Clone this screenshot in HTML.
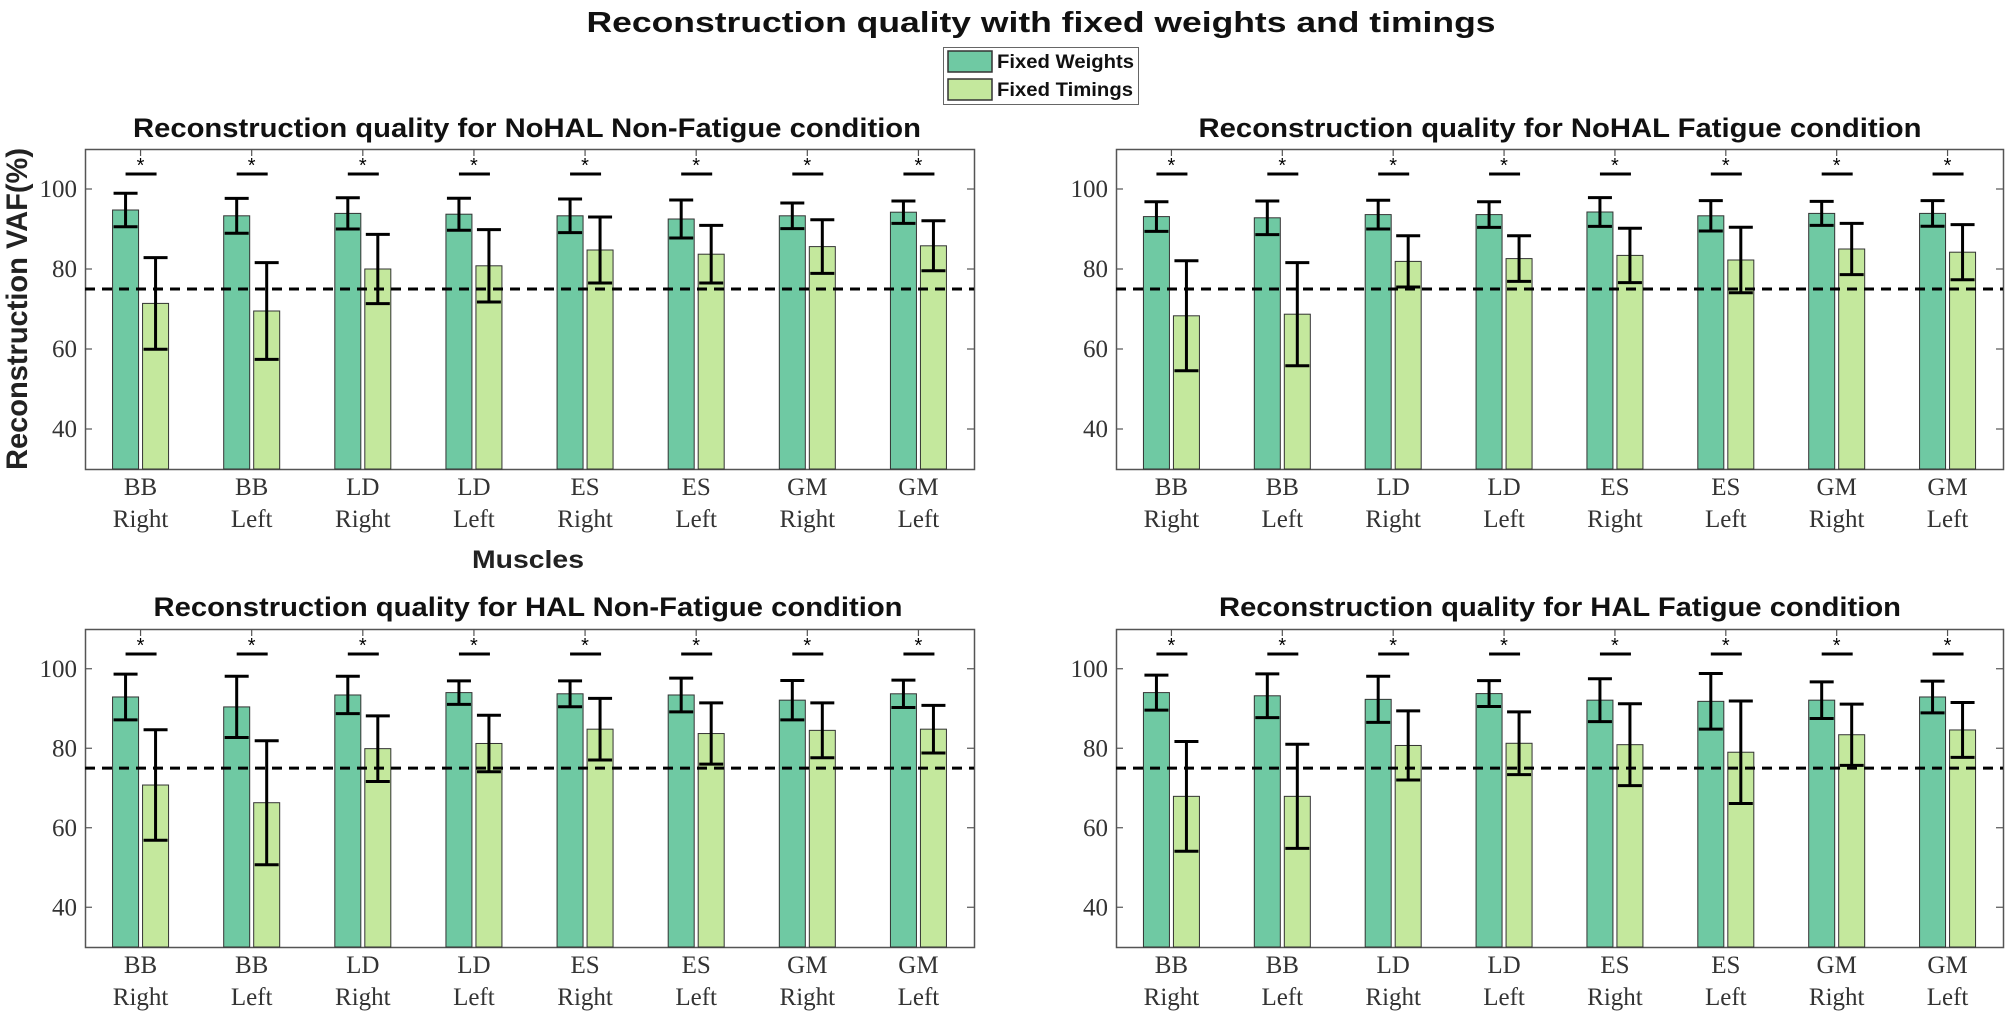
<!DOCTYPE html>
<html><head><meta charset="utf-8"><title>Reconstruction quality</title>
<style>html,body{margin:0;padding:0;background:#fff;}svg{display:block;}</style></head>
<body>
<svg id="chart" width="2008" height="1021" viewBox="0 0 2008 1021" xmlns="http://www.w3.org/2000/svg">
<rect x="0" y="0" width="2008" height="1021" fill="#fff"/>
<text x="1041" y="32" text-anchor="middle" font-family="Liberation Sans, sans-serif" font-weight="bold" font-size="29" textLength="909" lengthAdjust="spacingAndGlyphs" fill="#111">Reconstruction quality with fixed weights and timings</text>
<g>
<rect x="943.5" y="47.5" width="195" height="57" fill="#fff" stroke="#666" stroke-width="1"/>
<rect x="948" y="51" width="44" height="21" fill="#6fc9a3" stroke="#333" stroke-width="1.5"/>
<text x="997" y="68" font-family="Liberation Sans, sans-serif" font-weight="bold" font-size="19" textLength="137" lengthAdjust="spacingAndGlyphs" fill="#111">Fixed Weights</text>
<rect x="948" y="79" width="44" height="21" fill="#c4e89d" stroke="#333" stroke-width="1.5"/>
<text x="997" y="96" font-family="Liberation Sans, sans-serif" font-weight="bold" font-size="19" textLength="136" lengthAdjust="spacingAndGlyphs" fill="#111">Fixed Timings</text>
</g>
<text transform="translate(27,309) rotate(-90)" text-anchor="middle" font-family="Liberation Sans, sans-serif" font-weight="bold" font-size="30" textLength="322" lengthAdjust="spacingAndGlyphs" fill="#222">Reconstruction VAF(%)</text>
<text x="528" y="568" text-anchor="middle" font-family="Liberation Sans, sans-serif" font-weight="bold" font-size="25" textLength="112" lengthAdjust="spacingAndGlyphs" fill="#222">Muscles</text>
</svg>
<script>
const muscles = ["BB", "BB", "LD", "LD", "ES", "ES", "GM", "GM"];
const sides = ["Right", "Left", "Right", "Left", "Right", "Left", "Right", "Left"];
const yTicks = [40, 60, 80, 100];
const threshold = 75;
const panelTitles = [
  "Reconstruction quality for NoHAL Non-Fatigue condition",
  "Reconstruction quality for NoHAL Fatigue condition",
  "Reconstruction quality for HAL Non-Fatigue condition",
  "Reconstruction quality for HAL Fatigue condition"
];
// Fixed Weights means / sd
const fwNoHalNF = [94.75, 93.3, 93.9, 93.7, 93.3, 92.5, 93.3, 94.2];
const fwNoHalNFsd = [4.2, 4.35, 3.9, 4.0, 4.2, 4.75, 3.2, 2.8];
const ftNoHalNF = [71.4, 69.5, 80.0, 80.8, 84.75, 83.7, 85.6, 85.8];
const ftNoHalNFsd = [11.45, 12.1, 8.65, 9.05, 8.25, 7.2, 6.7, 6.25];

const fwNoHalF = [93.1, 92.8, 93.6, 93.6, 94.25, 93.3, 93.9, 93.9];
const fwNoHalFsd = [3.7, 4.2, 3.6, 3.2, 3.6, 3.8, 3.0, 3.2];
const ftNoHalF = [68.3, 68.7, 81.9, 82.6, 83.4, 82.25, 85.0, 84.2];
const ftNoHalFsd = [13.75, 12.9, 6.4, 5.7, 6.8, 8.2, 6.4, 6.9];

const fwHalNF = [92.9, 90.4, 93.4, 94.0, 93.7, 93.4, 92.1, 93.7];
const fwHalNFsd = [5.75, 7.7, 4.7, 2.95, 3.25, 4.25, 4.95, 3.45];
const ftHalNF = [70.75, 66.3, 79.9, 81.2, 84.8, 83.7, 84.5, 84.8];
const ftHalNFsd = [13.9, 15.6, 8.25, 7.1, 7.75, 7.7, 6.9, 6.0];

const fwHalF = [94.0, 93.2, 92.3, 93.75, 92.1, 91.8, 92.1, 92.9];
const fwHalFsd = [4.4, 5.5, 5.8, 3.25, 5.4, 7.0, 4.6, 4.0];
const ftHalF = [67.9, 67.9, 80.7, 81.25, 80.9, 79.0, 83.4, 84.6];
const ftHalFsd = [13.8, 13.1, 8.7, 7.9, 10.3, 12.9, 7.7, 6.9];

const NS = "http://www.w3.org/2000/svg";
const svg = document.getElementById("chart");
function mk(tag, attrs, parent) {
  const e = document.createElementNS(NS, tag);
  for (const k in attrs) e.setAttribute(k, attrs[k]);
  (parent || svg).appendChild(e);
  return e;
}
const panels = [
  {x0: 85, x1: 974, y0: 149, y1: 469, tx: 527, ty: 137, tw: 788, fw: fwNoHalNF, fws: fwNoHalNFsd, ft: ftNoHalNF, fts: ftNoHalNFsd, key: "nohal-nonfatigue"},
  {x0: 1116, x1: 2003, y0: 149, y1: 469, tx: 1560, ty: 137, tw: 723, fw: fwNoHalF, fws: fwNoHalFsd, ft: ftNoHalF, fts: ftNoHalFsd, key: "nohal-fatigue"},
  {x0: 85, x1: 974, y0: 629, y1: 947, tx: 528, ty: 616, tw: 749, fw: fwHalNF, fws: fwHalNFsd, ft: ftHalNF, fts: ftHalNFsd, key: "hal-nonfatigue"},
  {x0: 1116, x1: 2003, y0: 629, y1: 947, tx: 1560, ty: 616, tw: 682, fw: fwHalF, fws: fwHalFsd, ft: ftHalF, fts: ftHalFsd, key: "hal-fatigue"}
];
const YMIN = 30, YMAX = 110;
panels.forEach((p, pi) => {
  const g = mk("g", {});
  
  
  const ys = v => p.y1 - (v - YMIN) / (YMAX - YMIN) * (p.y1 - p.y0);
  const bw = (p.x1 - p.x0) / muscles.length;
  const xs = i => p.x0 + (i + 0.5) * bw;
  const t = mk("text", {x: p.tx, y: p.ty, "text-anchor": "middle", "font-family": "Liberation Sans, sans-serif", "font-weight": "bold", "font-size": "27", textLength: p.tw, lengthAdjust: "spacingAndGlyphs", fill: "#111"}, g);
  t.textContent = panelTitles[pi];
  
  
  mk("rect", {x: p.x0 + 0.5, y: p.y0 + 0.5, width: p.x1 - p.x0, height: p.y1 - p.y0, fill: "#fff", stroke: "#555", "stroke-width": "1.5"}, g);
  yTicks.forEach(v => {
    const y = ys(v);
    mk("line", {x1: p.x0, x2: p.x0 + 7, y1: y, y2: y, stroke: "#555", "stroke-width": "1.2"}, g);
    mk("line", {x1: p.x1 - 7, x2: p.x1, y1: y, y2: y, stroke: "#555", "stroke-width": "1.2"}, g);
    const tl = mk("text", {x: p.x0 - 8, y: y + 8, "text-anchor": "end", "font-family": "Liberation Serif, serif", "font-size": "25", fill: "#333"}, g);
    tl.textContent = v;
    
    
  });
  muscles.forEach((m, i) => {
    const c = xs(i);
    mk("line", {x1: c, x2: c, y1: p.y0, y2: p.y0 + 7, stroke: "#555", "stroke-width": "1.2"}, g);
    const l1 = mk("text", {x: c, y: p.y1 + 26, "text-anchor": "middle", "font-family": "Liberation Serif, serif", "font-size": "25", fill: "#333"}, g);
    l1.textContent = m;
    
    
    const l2 = mk("text", {x: c, y: p.y1 + 58, "text-anchor": "middle", "font-family": "Liberation Serif, serif", "font-size": "25", fill: "#333"}, g);
    l2.textContent = sides[i];
    
    
    [[p.fw, p.fws, -15, "#6fc9a3", "fixed-weights"], [p.ft, p.fts, 15, "#c4e89d", "fixed-timings"]].forEach(s => {
      const v = s[0][i], sd = s[1][i], bx = c + s[2];
      const r = mk("rect", {x: bx - 13, y: ys(v), width: 26, height: ys(YMIN) - ys(v), fill: s[3], stroke: "#333", "stroke-width": "1"}, g);
      
      
      const eg = mk("g", {stroke: "#000", "stroke-width": "3", fill: "none"}, g);
      
      
      mk("line", {x1: bx, x2: bx, y1: ys(v + sd), y2: ys(v - sd)}, eg);
      mk("line", {x1: bx - 12, x2: bx + 12, y1: ys(v + sd), y2: ys(v + sd)}, eg);
      mk("line", {x1: bx - 12, x2: bx + 12, y1: ys(v - sd), y2: ys(v - sd)}, eg);
    });
    const sy = p.y0 + 25;
    const sl = mk("line", {x1: c - 15, x2: c + 16, y1: sy, y2: sy, stroke: "#000", "stroke-width": "3"}, g);
    
    
    const st = mk("text", {x: c, y: sy - 2, "text-anchor": "middle", "font-family": "Liberation Sans, sans-serif", "font-size": "20", fill: "#000"}, g);
    st.textContent = "*";
    
    
  });
  const dl = mk("line", {x1: p.x0, x2: p.x1, y1: ys(threshold), y2: ys(threshold), stroke: "#000", "stroke-width": "3", "stroke-dasharray": "10 7"}, g);
  
  
});
</script>
</body></html>
